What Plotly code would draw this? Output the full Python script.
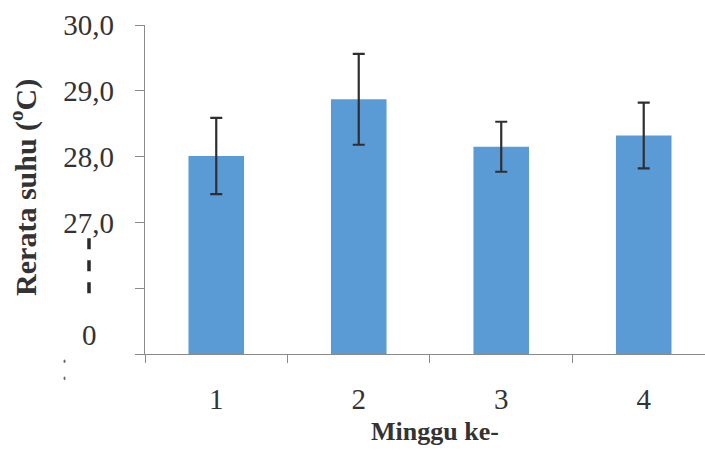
import plotly.graph_objects as go

# Weekly mean temperature with standard-deviation error bars
weeks = ["1", "2", "3", "4"]
mean_temp = [28.01, 28.87, 28.15, 28.32]
temp_err = [0.58, 0.69, 0.38, 0.50]

y_tick_vals = [27, 28, 29, 30]
y_tick_text = ["27,0", "28,0", "29,0", "30,0"]
y_minor_vals = [25, 26]
zero_label = "0"

FONT = "Liberation Serif, Times New Roman, serif"
TEXT = "#333333"
AXIS = "#8a8a8a"

fig = go.Figure(
    go.Bar(
        x=weeks,
        y=mean_temp,
        width=0.39,
        marker=dict(color="#5b9bd5", line=dict(width=0)),
        error_y=dict(type="data", array=temp_err, visible=True,
                     color="#2f2f2f", thickness=2.2, width=6),
    )
)

fig.update_layout(
    width=705, height=452,
    margin=dict(l=145, r=0, t=25, b=98),
    paper_bgcolor="white", plot_bgcolor="white",
    showlegend=False,
    font=dict(family=FONT, color=TEXT),
)

fig.update_xaxes(
    type="category", range=[-0.5, 3.43],
    showline=True, linecolor=AXIS, linewidth=1.3,
    ticks="outside", tickson="boundaries", ticklen=8, tickcolor=AXIS, tickwidth=1.3,
    tickfont=dict(size=29, family=FONT, color=TEXT),
    ticklabelstandoff=19,
    showgrid=False, zeroline=False,
)

fig.update_yaxes(
    range=[25, 30],
    tickvals=y_tick_vals, ticktext=y_tick_text,
    showline=True, linecolor=AXIS, linewidth=1.3,
    ticks="outside", ticklen=9, tickcolor=AXIS, tickwidth=1.3,
    minor=dict(tickvals=y_minor_vals, ticks="outside", ticklen=9,
               tickcolor=AXIS, tickwidth=1.3, showgrid=False),
    tickfont=dict(size=29, family=FONT, color=TEXT),
    ticklabelstandoff=15,
    showgrid=False, zeroline=False,
)

# Axis titles
fig.add_annotation(text="<b>Minggu ke-</b>", xref="paper", yref="paper",
                   x=0.518, y=-0.237, xanchor="center", yanchor="middle",
                   showarrow=False, font=dict(size=26, family=FONT, color=TEXT))
fig.add_annotation(text="<b>Rerata suhu (<sup>o</sup>C)</b>", xref="paper", yref="paper",
                   x=-0.216, y=0.505, xanchor="center", yanchor="middle",
                   textangle=-90, showarrow=False,
                   font=dict(size=30, family=FONT, color=TEXT))

# Broken-axis marker: zero label and dashed break line
fig.add_annotation(text=zero_label, xref="paper", yref="y",
                   x=-0.1, y=25.29, xanchor="center", yanchor="middle",
                   showarrow=False, font=dict(size=29, family=FONT, color=TEXT))
fig.add_shape(type="line", xref="paper", yref="y",
              x0=-0.1, x1=-0.1, y0=26.76, y1=25.79,
              line=dict(color="#2a2a2a", width=3.5, dash="11px,11px"))
for yy in [-0.022, -0.074]:
    fig.add_shape(type="circle", xref="paper", yref="paper",
                  x0=-0.1455, x1=-0.1419, y0=yy - 0.0055, y1=yy + 0.0055,
                  fillcolor="#666666", line=dict(width=0))

fig.write_html("out.html")
